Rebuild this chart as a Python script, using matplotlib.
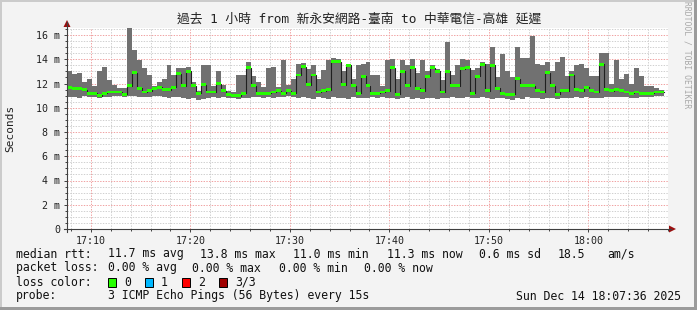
import numpy as np
import matplotlib
matplotlib.use('Agg')
import matplotlib.pyplot as plt
from matplotlib.lines import Line2D
from matplotlib.patches import Polygon, Rectangle

W, H = 697, 310
BG = '#f3f3f3'
SMOKE = '#717171'
MEDIAN_C = '#202020'
AXIS_C = '#404040'
ARROW_C = '#9a1010'
MGRID_C = '#f0a0a0'
GRID_C = '#cfcfcf'
MONO = 'DejaVu Sans Mono'
TITLE_FONT = ['DejaVu Sans Mono', 'Noto Sans CJK TC']

# ---- data: rtt in ms, one value per 30 s, starting 17:07:36 ----
STEP_MIN = 0.5
rtt_max = [
    13.0, 12.8, 12.9, 12.1, 12.4, 11.8, 13.0, 13.4, 12.3, 11.9,
    11.6, 11.6, 16.6, 14.8, 13.9, 13.3, 12.7, 11.8, 12.1, 12.4,
    13.5, 12.7, 13.3, 13.3, 13.4, 12.1, 11.4, 13.5, 13.5, 11.8,
    13.0, 11.9, 11.4, 11.3, 12.7, 12.7, 13.8, 12.6, 12.1, 11.7,
    13.3, 13.4, 11.7, 13.9, 11.9, 12.4, 13.6, 13.7, 13.2, 13.5,
    12.4, 13.1, 13.9, 14.1, 14.0, 13.0, 13.6, 12.4, 13.5, 13.6,
    13.8, 12.7, 12.7, 11.8, 13.9, 14.0, 12.4, 13.9, 13.5, 14.0,
    12.9, 13.9, 13.0, 13.5, 13.2, 12.3, 15.4, 12.7, 13.5, 14.0,
    13.9, 13.1, 13.3, 13.8, 13.6, 15.0, 12.5, 14.4, 13.0, 12.5,
    15.0, 14.1, 14.1, 15.9, 13.6, 13.5, 13.8, 13.0, 13.8, 14.2,
    12.6, 13.0, 13.5, 13.6, 13.3, 12.6, 12.6, 14.5, 14.5, 12.0,
    13.9, 12.4, 12.8, 12.0, 13.3, 12.6, 11.8, 11.8, 11.6, 11.5,
]
rtt_median = [
    11.7, 11.6, 11.6, 11.5, 11.2, 11.2, 11.0, 11.2, 11.3, 11.3,
    11.3, 11.1, 11.8, 12.9, 11.6, 11.3, 11.4, 11.6, 11.7, 11.5,
    11.5, 11.7, 12.8, 11.8, 13.0, 11.8, 11.2, 11.9, 11.3, 11.3,
    12.0, 11.4, 11.1, 11.0, 11.0, 11.2, 13.3, 11.8, 11.2, 11.2,
    11.2, 11.3, 11.4, 11.2, 11.4, 11.2, 12.7, 13.4, 11.9, 12.7,
    11.3, 11.4, 11.5, 13.8, 13.8, 11.9, 13.5, 11.8, 11.2, 12.6,
    11.8, 11.2, 11.2, 11.3, 11.4, 13.3, 11.1, 13.0, 11.8, 13.3,
    11.6, 11.4, 12.6, 13.3, 13.0, 11.3, 13.0, 11.8, 11.8, 13.2,
    13.3, 11.2, 12.6, 13.6, 11.4, 13.5, 11.6, 11.2, 11.1, 11.1,
    12.4, 11.8, 11.8, 11.8, 11.4, 11.3, 12.9, 11.8, 11.1, 11.4,
    11.4, 12.7, 11.5, 11.4, 11.7, 11.4, 11.3, 13.6, 11.5, 11.4,
    11.5, 11.4, 11.3, 11.2, 11.3, 11.2, 11.2, 11.2, 11.3, 11.3,
]
rtt_min = [
    10.9, 10.9, 10.8, 11.0, 10.9, 10.9, 10.8, 10.9, 10.9, 11.0,
    11.0, 10.9, 11.0, 11.0, 10.9, 10.9, 10.9, 11.0, 11.0, 10.9,
    10.8, 10.9, 10.9, 10.8, 10.7, 10.8, 10.6, 10.7, 10.8, 10.9,
    10.8, 10.9, 10.8, 10.8, 10.7, 10.8, 10.8, 10.9, 10.9, 10.8,
    10.9, 10.8, 10.9, 10.9, 11.0, 10.9, 10.8, 10.9, 10.8, 10.7,
    10.9, 10.8, 10.7, 10.9, 10.8, 10.8, 10.7, 10.9, 10.8, 10.8,
    10.8, 10.9, 10.8, 10.9, 10.8, 10.8, 10.7, 10.8, 10.9, 10.7,
    10.8, 10.7, 10.8, 10.8, 10.7, 10.8, 10.8, 10.9, 10.8, 10.8,
    10.9, 10.8, 10.8, 10.9, 10.8, 10.7, 10.8, 10.8, 10.7, 10.6,
    10.8, 10.7, 10.9, 10.8, 10.8, 10.7, 10.8, 10.8, 10.7, 10.8,
    10.8, 10.8, 10.9, 10.8, 10.9, 10.8, 10.8, 10.8, 10.9, 10.9,
    10.9, 10.9, 10.9, 10.8, 10.8, 10.9, 10.9, 10.9, 11.0, 11.0,
]
time_labels = ['17:10', '17:20', '17:30', '17:40', '17:50', '18:00']
FIRST_LABEL_OFFSET = 2.4   # 17:10 is 2.4 min after 17:07:36
y_major = [0, 2, 4, 6, 8, 10, 12, 14, 16]

title = '過去 1 小時 from 新永安網路-臺南 to 中華電信-高雄 延遲'
rtt_stats = [(16, 'median rtt:'), (108, '11.7 ms avg'), (200, '13.8 ms max'),
             (293, '11.0 ms min'), (387, '11.3 ms now'), (479, '0.6 ms sd'),
             (558, '18.5'), (607, 'am/s')]
loss_stats = [(16, 'packet loss:'), (108, '0.00 % avg'), (192, '0.00 % max'),
              (279, '0.00 % min'), (364, '0.00 % now')]
loss_colors = [('0', '#26ff00'), ('1', '#00b8ff'), ('2', '#ff0000'), ('3/3', '#a00000')]
probe_txt = '3 ICMP Echo Pings (56 Bytes) every 15s'
stamp = 'Sun Dec 14 18:07:36 2025'


def px(x, y):
    return x / W, 1 - y / H


fig = plt.figure(figsize=(W / 100, H / 100), dpi=100)
fig.patch.set_facecolor(BG)

X0, X1, Y0, Y1 = 67, 668, 229, 28
ax = fig.add_axes([X0 / W, 1 - Y0 / H, (X1 - X0) / W, (Y0 - Y1) / H])
ax.set_facecolor('white')
for s in ax.spines.values():
    s.set_visible(False)

n = len(rtt_median)
edges = np.arange(n + 1) * STEP_MIN
mx = np.append(rtt_max, rtt_max[-1])
md = np.append(rtt_median, rtt_median[-1])
mn = np.append(rtt_min, rtt_min[-1])

ax.fill_between(edges, mn, mx, step='post', color=SMOKE, lw=0, zorder=3)
ax.step(edges, md, where='post', color=MEDIAN_C, lw=0.8, zorder=4)
ax.fill_between(edges, md - 0.12, md + 0.12, step='post', color=loss_colors[0][1], lw=0, zorder=5)

ax.set_xlim(0, 60.1)
ax.set_ylim(0, (Y0 - Y1) / 12.125)

xt = [FIRST_LABEL_OFFSET + 10 * i for i in range(len(time_labels))]
ax.set_xticks(xt)
ax.set_xticklabels(time_labels)
ax.set_xticks([FIRST_LABEL_OFFSET - 2 + 2 * i for i in range(31) if i % 5 != 1], minor=True)
ax.set_yticks(y_major)
ax.set_yticklabels(['0' if v == 0 else f'{v} m' for v in y_major])
ax.set_yticks([v * 0.5 for v in range(34) if v % 4 != 0], minor=True)

ax.grid(which='minor', color=GRID_C, lw=0.7, linestyle=(0, (1.4, 1.4)), zorder=1)
ax.grid(which='major', color=MGRID_C, lw=0.7, linestyle=(0, (1.4, 1.4)), zorder=2)
ax.set_axisbelow(True)

ax.tick_params(which='major', length=2.5, width=0.7, color=AXIS_C, pad=2.5,
               labelsize=7.2, labelcolor='#222')
ax.tick_params(which='minor', length=1.5, width=0.7, color=AXIS_C)
for lab in ax.get_xticklabels() + ax.get_yticklabels():
    lab.set_family(MONO)

# axes with arrow heads
fig.add_artist(Line2D(*zip(px(X0, Y0 + 3), px(X0, 22)), color=AXIS_C, lw=0.8))
fig.add_artist(Line2D(*zip(px(X0 - 3, Y0), px(671, Y0)), color=AXIS_C, lw=0.8))
fig.add_artist(Polygon([px(X0, 20), px(X0 - 3.5, 27), px(X0 + 3.5, 27)],
                       closed=True, fc=ARROW_C, ec='none'))
fig.add_artist(Polygon([px(676, Y0), px(669, Y0 - 3.5), px(669, Y0 + 3.5)],
                       closed=True, fc=ARROW_C, ec='none'))

# texts
fig.text(*px(359, 19), title, family=TITLE_FONT, fontsize=9.2, ha='center', va='center', color='#222')
fig.text(*px(10, 128), 'Seconds', family=MONO, fontsize=8, rotation=90,
         ha='center', va='center', color='#222')
fig.text(*px(687, 55), 'RRDTOOL / TOBI OETIKER', family=MONO, fontsize=5.8,
         rotation=-90, ha='center', va='center', color='#a8a8a8')

ROWS = [254, 268, 282, 296]
for x, s in rtt_stats:
    fig.text(*px(x, ROWS[0]), s, family=MONO, fontsize=8.3, va='center', color='#111')
for x, s in loss_stats:
    fig.text(*px(x, ROWS[1]), s, family=MONO, fontsize=8.3, va='center', color='#111')
fig.text(*px(16, ROWS[2]), 'loss color:', family=MONO, fontsize=8.3, va='center', color='#111')
for i, (s, c) in enumerate(loss_colors):
    bx = 108 + 37 * i
    fig.add_artist(Rectangle(px(bx, ROWS[2] + 4.5), 8 / W, 9 / H, fc=c, ec='black', lw=0.7))
    fig.text(*px(bx + 16, ROWS[2]), s, family=MONO, fontsize=8.3, va='center', color='#111')
fig.text(*px(16, ROWS[3]), 'probe:', family=MONO, fontsize=8.3, va='center', color='#111')
fig.text(*px(108, ROWS[3]), probe_txt, family=MONO, fontsize=8.3, va='center', color='#111')
fig.text(*px(681, ROWS[3]), stamp, family=MONO, fontsize=8.3, ha='right', va='center', color='#111')

# shaded frame
fig.add_artist(Rectangle((0, 1 - 2 / H), 1, 2 / H, fc='#cbcbcb', ec='none'))
fig.add_artist(Rectangle((0, 0), 2 / W, 1, fc='#cbcbcb', ec='none'))
fig.add_artist(Rectangle((0, 0), 1, 3 / H, fc='#9b9b9b', ec='none'))
fig.add_artist(Rectangle((1 - 3 / W, 0), 3 / W, 1, fc='#9b9b9b', ec='none'))

fig.savefig('out.png', dpi=100, facecolor=BG)
